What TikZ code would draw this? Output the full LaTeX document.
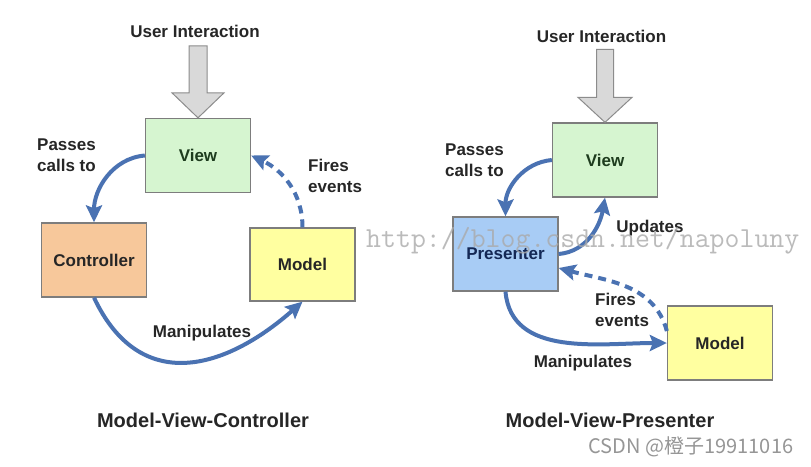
\documentclass[tikz,border=0pt]{standalone}
\usepackage{fontspec}
\setmainfont{Liberation Sans}
\newfontfamily\cjk{Noto Sans CJK SC}
\usetikzlibrary{arrows.meta}
\definecolor{flowblue}{RGB}{74,114,178}
\definecolor{viewfill}{RGB}{214,245,208}
\definecolor{ctrlfill}{RGB}{247,200,155}
\definecolor{modelfill}{RGB}{255,255,160}
\definecolor{presfill}{RGB}{168,204,245}
\definecolor{boxline}{RGB}{125,125,125}
\definecolor{uifill}{RGB}{217,217,217}
\definecolor{uiline}{RGB}{140,140,140}
\definecolor{txt}{RGB}{38,38,38}
\definecolor{viewtxt}{RGB}{30,60,30}
\definecolor{prestxt}{RGB}{20,40,85}
\definecolor{wm}{RGB}{170,170,170}
\definecolor{csdn}{RGB}{150,150,150}
\tikzset{
  box/.style={draw=boxline, line width=1.3pt, minimum width=105pt, minimum height=74pt,
    inner sep=0pt, font=\bfseries\fontsize{17}{20}\selectfont},
  lbl/.style={inner sep=0pt, align=left, text=txt, font=\bfseries\fontsize{17}{21}\selectfont},
  ttl/.style={inner sep=0pt, text=txt, font=\bfseries\fontsize{20}{24}\selectfont},
  flow/.style={draw=flowblue, line width=4pt, -{Stealth[length=17pt,width=16pt,inset=3pt]}},
  evt/.style={flow, dash pattern=on 8pt off 6pt},
  blockarrow/.style={fill=uifill, draw=uiline, line width=1pt, line join=miter}
}
\begin{document}
\begin{tikzpicture}[x=1pt,y=-1pt]
\useasboundingbox (0,0) rectangle (811,466);
\fill[white] (0,0) rectangle (811,466);

% ---------- Model-View-Controller ----------
\node[lbl] (ui1) at (195,31) {User Interaction};
\node[box, fill=viewfill, text=viewtxt] (v1) at (198,155.5) {View};
\node[box, fill=ctrlfill, minimum height=74pt, text=txt] (c1) at (94,260) {Controller};
\node[box, fill=modelfill, minimum height=73pt, text=txt] (m1) at (302.5,264.5) {Model};

\draw[blockarrow] (v1.north) -- ++(-26,-25) -- ++(17,0) -- ++(0,-47) -- ++(18,0) -- ++(0,47) -- ++(17,0) -- cycle;

\draw[flow] (v1.west) to[out=185,in=90] (c1.north);
\draw[evt] (m1.north) to[out=90,in=-25] (v1.east);
\draw[flow] (c1.south) .. controls (140,395) and (225,370) .. (m1.south);

\node[lbl, anchor=west] (pc1) at (37,155) {Passes\\calls to};
\node[lbl, anchor=west] (fe1) at (308,175.5) {Fires\\events};
\node[lbl] (mn1) at (202,333) {Manipulates};
\node[ttl] (t1) at (203,420) {Model-View-Controller};

% ---------- Model-View-Presenter ----------
\node[lbl] (ui2) at (601.5,36) {User Interaction};
\node[box, fill=viewfill, text=viewtxt] (v2) at (605,160) {View};
\node[box, fill=presfill, text=prestxt] (p2) at (505.5,254) {Presenter};
\node[box, fill=modelfill, text=txt] (m2) at (720,343) {Model};

\draw[blockarrow] (v2.north) -- ++(-27,-25) -- ++(18.5,0) -- ++(0,-48) -- ++(17,0) -- ++(0,48) -- ++(18.5,0) -- cycle;

\draw[flow] (v2.west) to[out=185,in=90] (p2.north);
\draw[flow] (p2.east) to[out=5,in=-100] (v2.south);
\draw[evt] ([yshift=12pt]m2.west) to[out=105,in=-15] ([yshift=-14pt]p2.east);
\draw[flow] (p2.south) to[out=-85,in=180] (m2.west);

\node[lbl, anchor=west] (pc2) at (445,160) {Passes\\calls to};
\node[lbl] (up2) at (650,228) {Updates};
\node[lbl, anchor=west] (fe2) at (595,310) {Fires\\events};
\node[lbl] (mn2) at (583,363) {Manipulates};
\node[ttl] (t2) at (610,420) {Model-View-Presenter};

% ---------- watermarks ----------
\begin{scope}
\clip (0,0) rectangle (811,466);
\node[anchor=base west, inner sep=0pt, text=wm, opacity=0.8,
  font=\ttfamily\fontsize{29}{29}\selectfont] (wm) at (366,247) {http://blog.csdn.net/napoluny};
\end{scope}
\node[inner sep=0pt, text=csdn, font=\cjk\fontsize{20}{22}\selectfont] (cs) at (691,447) {CSDN @橙子19911016};
\end{tikzpicture}
\end{document}
